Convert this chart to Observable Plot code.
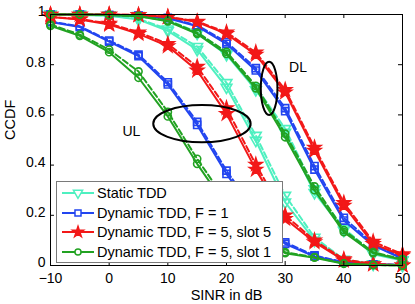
<!DOCTYPE html>
<html>
<head>
<meta charset="utf-8">
<script src="https://cdn.jsdelivr.net/npm/d3@7"></script>
<script src="https://cdn.jsdelivr.net/npm/@observablehq/plot@0.6"></script>
<style>
  html, body { margin: 0; padding: 0; background: white; }
  #wrap { position: relative; width: 415px; height: 304px; font-family: "Liberation Sans", Arial, sans-serif; }
  #legend { position: absolute; left: 56px; top: 181px; width: 227px; height: 82px; border: 1px solid #7a7a7a; background: white; box-sizing: border-box; }
  .row { position: absolute; left: 0; height: 20px; display: flex; align-items: center; font-size: 14.5px; color: #000; white-space: nowrap; }
  .row svg { margin-left: 5px; margin-right: 3px; }
</style>
</head>
<body>
<div id="wrap"><div id="legend"></div></div>
<script>
// ---- data ----
const sinr = [-10, -5, 0, 5, 10, 15, 20, 25, 30, 35, 40, 45, 50];
const xTicks = [-10, 0, 10, 20, 30, 40, 50];
const yTicks = [0, 0.2, 0.4, 0.6, 0.8, 1];
const seriesNames = ["Static TDD", "Dynamic TDD, F = 1", "Dynamic TDD, F = 5, slot 5", "Dynamic TDD, F = 5, slot 1"];

// UL curves (solid / dashed)
const staticUL      = [1.0, 0.998, 0.995, 0.98, 0.935, 0.86, 0.71, 0.498, 0.252, 0.10, 0.02, 0.005, 0.001];
const staticULd     = [1.0, 0.999, 0.996, 0.983, 0.942, 0.872, 0.728, 0.518, 0.279, 0.112, 0.024, 0.006, 0.001];
const dynF1UL       = [0.97, 0.95, 0.892, 0.834, 0.721, 0.56, 0.365, 0.2, 0.086, 0.036, 0.012, 0.005, 0.002];
const dynF1ULd      = [0.972, 0.953, 0.896, 0.84, 0.73, 0.572, 0.378, 0.21, 0.092, 0.04, 0.013, 0.005, 0.002];
const dynS5UL       = [0.99, 0.98, 0.96, 0.923, 0.874, 0.777, 0.604, 0.382, 0.186, 0.093, 0.02, 0.005, 0.001];
const dynS5ULd      = [0.99, 0.982, 0.964, 0.929, 0.883, 0.792, 0.627, 0.402, 0.2, 0.1, 0.025, 0.006, 0.001];
const dynS1UL       = [0.955, 0.915, 0.85, 0.748, 0.594, 0.405, 0.235, 0.11, 0.049, 0.031, 0.007, 0.002, 0.0];
const dynS1ULd      = [0.96, 0.92, 0.86, 0.773, 0.612, 0.425, 0.255, 0.122, 0.053, 0.033, 0.008, 0.002, 0.0];
// DL curves (solid / dashed)
const staticDL      = [1.0, 1.0, 0.998, 0.994, 0.975, 0.925, 0.84, 0.70, 0.53, 0.29, 0.14, 0.045, 0.02];
const staticDLd     = [1.0, 1.0, 0.998, 0.995, 0.978, 0.93, 0.848, 0.712, 0.545, 0.305, 0.148, 0.05, 0.022];
const dynF1DL       = [1.0, 1.0, 0.998, 0.995, 0.985, 0.953, 0.883, 0.777, 0.615, 0.382, 0.179, 0.08, 0.027];
const dynF1DLd      = [1.0, 1.0, 0.998, 0.996, 0.987, 0.957, 0.89, 0.786, 0.627, 0.396, 0.19, 0.086, 0.03];
const dynS5DL       = [1.0, 1.0, 1.0, 0.998, 0.99, 0.97, 0.923, 0.84, 0.69, 0.458, 0.239, 0.086, 0.04];
const dynS5DLd      = [1.0, 1.0, 1.0, 0.998, 0.991, 0.972, 0.929, 0.849, 0.70, 0.47, 0.25, 0.095, 0.045];
const dynS1DL       = [1.0, 1.0, 0.998, 0.993, 0.973, 0.923, 0.843, 0.706, 0.511, 0.30, 0.133, 0.049, 0.023];
const dynS1DLd      = [1.0, 1.0, 0.998, 0.994, 0.976, 0.928, 0.851, 0.716, 0.525, 0.315, 0.141, 0.053, 0.025];

// annotations: [label, x, y]
const labels = [["UL", 3.8, 0.535], ["DL", 32.2, 0.79]];
// ellipses: [cx, cy, rx, ry] in data units
const ellipses = [[15.9, 0.563, 8.3, 0.074], [27.35, 0.704, 1.42, 0.106]];

// ---- styling ----
const colors = ["#4ef0c0", "#2245f0", "#f21818", "#22a222"];
const symbols = ["triangle", "square", "star", "circle"];
const d3symbols = [d3.symbolTriangle, d3.symbolSquare, d3.symbolStar, d3.symbolCircle];
const rotates = [180, 0, 0, 0];
const radii = [4, 4, 4, 3.6];
const filled = [false, false, true, false];

const curveSets = [
  [staticUL, staticULd, staticDL, staticDLd],
  [dynF1UL, dynF1ULd, dynF1DL, dynF1DLd],
  [dynS5UL, dynS5ULd, dynS5DL, dynS5DLd],
  [dynS1UL, dynS1ULd, dynS1DL, dynS1DLd]
];

const rows = [];
curveSets.forEach((set, si) => {
  set.forEach((vals, ci) => {
    const dashed = ci % 2 === 1;
    const key = si + "-" + ci;
    vals.forEach((v, i) => rows.push({x: sinr[i], y: v, s: si, key, dashed}));
  });
});

const marks = [];
curveSets.forEach((set, si) => {
  const sub = rows.filter(r => r.s === si);
  marks.push(Plot.line(sub.filter(r => !r.dashed), {x: "x", y: "y", z: "key", stroke: colors[si], strokeWidth: 2}));
  marks.push(Plot.line(sub.filter(r => r.dashed), {x: "x", y: "y", z: "key", stroke: colors[si], strokeWidth: 2, strokeDasharray: "6,3"}));
  marks.push(Plot.dot(sub, {x: "x", y: "y", symbol: () => symbols[si], r: radii[si], rotate: rotates[si],
    stroke: colors[si], strokeWidth: 1.6, fill: filled[si] ? colors[si] : "none"}));
});

function ellipseMark(e) {
  return (index, scales) => {
    const [cx, cy, rx, ry] = e;
    const el = document.createElementNS("http://www.w3.org/2000/svg", "ellipse");
    el.setAttribute("cx", scales.x(cx));
    el.setAttribute("cy", scales.y(cy));
    el.setAttribute("rx", Math.abs(scales.x(cx + rx) - scales.x(cx)));
    el.setAttribute("ry", Math.abs(scales.y(cy + ry) - scales.y(cy)));
    el.setAttribute("fill", "none");
    el.setAttribute("stroke", "black");
    el.setAttribute("stroke-width", 2);
    return el;
  };
}

const fmt = d => d < 0 ? "\u2212" + (-d) : String(d);

const chart = Plot.plot({
  width: 415, height: 304,
  marginLeft: 50, marginRight: 13, marginTop: 14, marginBottom: 39,
  x: {domain: [-10, 50]},
  y: {domain: [0, 1]},
  style: {fontFamily: "'Liberation Sans', Arial, sans-serif", fontSize: "14px", background: "white", color: "black"},
  marks: [
    ...marks,
    ...ellipses.map(ellipseMark),
    Plot.text(labels, {x: d => d[1], y: d => d[2], text: d => d[0], fontSize: 14, fill: "black"}),
    // inward ticks
    Plot.ruleX(xTicks, {x: d => d, y1: 0, y2: 0.016, stroke: "black"}),
    Plot.ruleX(xTicks, {x: d => d, y1: 0.984, y2: 1, stroke: "black"}),
    Plot.ruleY(yTicks, {y: d => d, x1: -10, x2: -9.32, stroke: "black"}),
    Plot.ruleY(yTicks, {y: d => d, x1: 49.32, x2: 50, stroke: "black"}),
    Plot.frame({stroke: "black"}),
    Plot.axisX(xTicks, {tickSize: 0, tickPadding: 8, tickFormat: fmt, fontSize: 14, label: null}),
    Plot.axisY(yTicks, {tickSize: 0, tickPadding: 5, dy: -2.5, tickFormat: d => String(d), fontSize: 14, label: null}),
    Plot.text(["SINR in dB"], {frameAnchor: "bottom", dy: 30, text: d => d, fontSize: 14.5, lineAnchor: "middle"}),
    Plot.text(["CCDF"], {frameAnchor: "left", dx: -40, rotate: -90, text: d => d, fontSize: 14.5, lineAnchor: "middle"})
  ]
});

const wrap = document.getElementById("wrap");
wrap.insertBefore(chart, wrap.firstChild);

// legend
const legend = document.getElementById("legend");
seriesNames.forEach((name, i) => {
  const row = document.createElement("div");
  row.className = "row";
  row.style.top = (1 + i * 19.7) + "px";
  const ns = "http://www.w3.org/2000/svg";
  const svg = document.createElementNS(ns, "svg");
  svg.setAttribute("width", 32); svg.setAttribute("height", 20);
  const line = document.createElementNS(ns, "line");
  line.setAttribute("x1", 0); line.setAttribute("x2", 32);
  line.setAttribute("y1", 10); line.setAttribute("y2", 10);
  line.setAttribute("stroke", colors[i]); line.setAttribute("stroke-width", 2);
  svg.appendChild(line);
  const p = document.createElementNS(ns, "path");
  const rr = radii[i] * 0.85;
  p.setAttribute("d", d3.symbol(d3symbols[i], Math.PI * rr * rr)());
  p.setAttribute("transform", `translate(16,10) rotate(${rotates[i]})`);
  p.setAttribute("stroke", colors[i]); p.setAttribute("stroke-width", 1.5);
  p.setAttribute("fill", filled[i] ? colors[i] : "white");
  svg.appendChild(p);
  row.appendChild(svg);
  const t = document.createElement("span");
  t.textContent = name;
  row.appendChild(t);
  legend.appendChild(row);
});
</script>
</body>
</html>
